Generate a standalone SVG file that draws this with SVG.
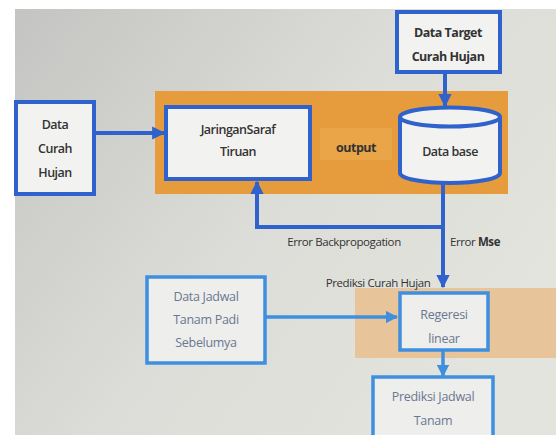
<svg xmlns="http://www.w3.org/2000/svg" width="556" height="435" viewBox="0 0 556 435">
<defs>
<linearGradient id="bg" x1="0" y1="0" x2="1" y2="0.6">
<stop offset="0" stop-color="#c4c4c2"/>
<stop offset="0.55" stop-color="#dcdcd8"/>
<stop offset="1" stop-color="#e4e4de"/>
</linearGradient>
<marker id="ah" viewBox="0 0 10 10" refX="9" refY="5" markerWidth="3.3" markerHeight="3.3" orient="auto">
<path d="M0,0 L10,5 L0,10 z" fill="#2f62cc"/>
</marker>
<marker id="ahl" viewBox="0 0 10 10" refX="9" refY="5" markerWidth="3.5" markerHeight="3.5" orient="auto">
<path d="M0,0 L10,5 L0,10 z" fill="#3f8fe0"/>
</marker>
<style>
.dk{fill:#f2f2f0;stroke:#2f62cc;stroke-width:4}
.lt{fill:#eeeeec;stroke:#3f8fe0;stroke-width:3.5}
.t{font-family:"Open Sans","Liberation Sans",sans-serif;font-size:12.5px;font-weight:600;fill:#333;text-anchor:middle;letter-spacing:-0.5px}
.b{font-weight:bold}
.e{font-family:"Open Sans","Liberation Sans",sans-serif;font-size:11.5px;fill:#333;text-anchor:middle;letter-spacing:-0.4px}
.tl{font-family:"Open Sans","Liberation Sans",sans-serif;font-size:12.5px;fill:#6a7890;text-anchor:middle;letter-spacing:-0.3px}
.c{fill:none;stroke:#2f62cc;stroke-width:4}
.cl{fill:none;stroke:#3f8fe0;stroke-width:3.5}
</style>
</defs>
<rect width="556" height="435" fill="#ffffff"/>
<rect x="15" y="9" width="541" height="426" fill="url(#bg)"/>
<g id="panel-top">
<rect x="155" y="91" width="353" height="103" fill="#e69b3c"/>
</g>
<g id="panel-bottom">
<rect x="355" y="288" width="201" height="70" fill="#e8c49a"/>
</g>
<g id="connectors">
<line x1="94" y1="133" x2="164" y2="133" class="c" marker-end="url(#ah)"/>
<line x1="445" y1="72" x2="445" y2="106" class="c" marker-end="url(#ah)"/>
<polyline points="443,184 443,227 257,227 257,182" class="c" marker-end="url(#ah)"/>
<line x1="443" y1="227" x2="443" y2="287" class="c" marker-end="url(#ah)"/>
<line x1="265" y1="317" x2="397" y2="317" class="cl" marker-end="url(#ahl)"/>
<line x1="443" y1="350" x2="443" y2="376" class="cl" marker-end="url(#ahl)"/>
<text x="344" y="246" class="e">Error Backpropogation</text>
<text x="475" y="246" class="e">Error <tspan class="b">Mse</tspan></text>
<text x="378" y="287" class="e">Prediksi Curah Hujan</text>
</g>
<g id="data-curah-hujan">
<rect x="16" y="102" width="78" height="92" class="dk"/>
<text x="55" y="129" class="t">Data</text>
<text x="55" y="153" class="t">Curah</text>
<text x="55" y="177" class="t">Hujan</text>
</g>
<g id="jst">
<rect x="166" y="107" width="144" height="72" class="dk"/>
<text x="238" y="134" class="t">JaringanSaraf</text>
<text x="238" y="156" class="t">Tiruan</text>
</g>
<g id="output">
<rect x="320" y="128" width="72" height="32" fill="#eba549"/>
<text x="356" y="152" class="t b">output</text>
</g>
<g id="data-target">
<rect x="397" y="12" width="103" height="60" class="dk"/>
<text x="448" y="37" class="t b">Data Target</text>
<text x="448" y="61" class="t b">Curah Hujan</text>
</g>
<g id="database">
<path d="M400,117 L400,173 A50,10 0 0 0 500,173 L500,117" class="dk"/>
<ellipse cx="450" cy="117" rx="50" ry="9.5" class="dk"/>
<text x="450" y="156" class="t">Data base</text>
</g>
<g id="data-jadwal">
<rect x="147" y="277" width="118" height="86" class="lt"/>
<text x="206" y="301" class="tl">Data Jadwal</text>
<text x="206" y="324" class="tl">Tanam Padi</text>
<text x="206" y="347" class="tl">Sebelumya</text>
</g>
<g id="regresi">
<rect x="400" y="293" width="88" height="57" class="lt"/>
<text x="444" y="319" class="tl">Regeresi</text>
<text x="444" y="343" class="tl">linear</text>
</g>
<g id="prediksi-jadwal">
<rect x="373" y="377" width="120" height="62" class="lt"/>
<text x="433" y="401" class="tl">Prediksi Jadwal</text>
<text x="433" y="425" class="tl">Tanam</text>
</g>
</svg>
